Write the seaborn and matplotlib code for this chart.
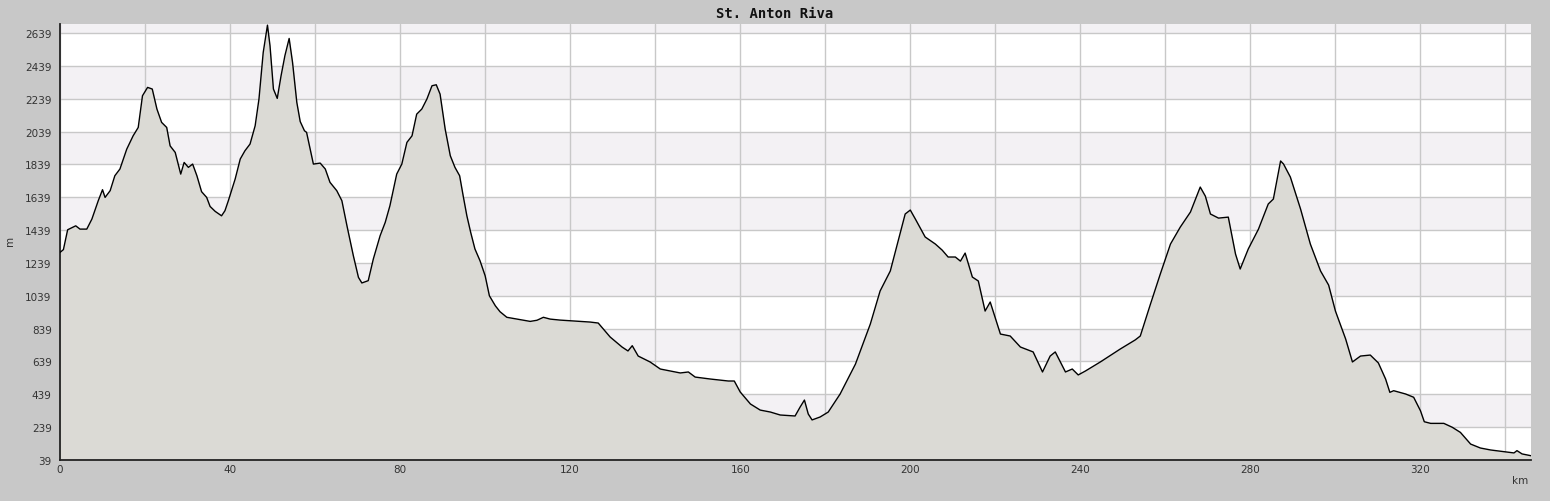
import numpy as np
import pandas as pd
import matplotlib
matplotlib.use("Agg")
import matplotlib.pyplot as plt
import seaborn as sns
from matplotlib.ticker import MultipleLocator, FixedLocator, FuncFormatter

# distance along the route (km) and elevation (m), read from the profile
km = [0.0, 0.8, 1.8, 3.7, 4.7, 6.3, 7.5, 9.0, 10.0, 10.6, 11.8, 12.9, 14.1, 15.7,
      17.2, 18.4, 19.4, 20.6, 21.7, 22.8, 23.9, 25.1, 25.9, 27.1, 28.4, 29.2,
      30.2, 31.2, 32.2, 33.3, 34.5, 35.3, 36.5, 38.0, 38.8, 39.6, 41.2, 42.4,
      43.5, 44.7, 45.9, 46.8, 47.8, 48.8, 49.4, 50.2, 51.1, 52.0, 52.9, 53.9,
      54.7, 55.7, 56.5, 57.5, 58.0, 59.6, 61.2, 62.4, 63.5, 65.1, 66.3, 67.5,
      69.0, 70.2, 71.0, 72.5, 73.7, 75.3, 76.5, 77.6, 79.2, 80.4, 81.6, 82.8,
      83.9, 85.1, 86.3, 87.5, 88.5, 89.4, 90.6, 91.8, 92.9, 94.0, 94.9, 95.7,
      96.6, 97.6, 98.8, 100.0, 101.0, 102.4, 103.5, 105.1, 107.5, 110.6, 112.2,
      113.7, 115.3, 117.6, 121.2, 124.7, 126.6, 129.4, 132.2, 133.6, 134.6,
      136.0, 138.8, 141.2, 145.9, 147.8, 149.4, 153.0, 157.2, 158.6, 160.0,
      162.4, 164.7, 167.1, 169.4, 172.9, 174.1, 175.1, 176.0, 176.9, 178.8,
      180.7, 183.5, 187.1, 190.6, 192.9, 195.3, 198.8, 200.0, 201.2, 203.5,
      205.9, 207.5, 208.9, 210.6, 211.8, 212.9, 214.6, 216.0, 217.6, 218.8,
      221.2, 223.5, 225.9, 228.9, 231.1, 232.9, 234.1, 236.5, 238.1, 239.5,
      241.2, 244.7, 249.4, 252.9, 254.1, 256.5, 258.8, 261.2, 263.5, 265.9,
      268.2, 269.4, 270.6, 272.5, 274.8, 276.5, 277.6, 279.5, 281.9, 284.2,
      285.4, 287.1, 287.8, 289.4, 291.8, 294.1, 296.5, 298.4, 300.0, 302.4,
      304.0, 305.9, 308.2, 310.1, 311.8, 312.8, 313.7, 316.5, 318.4, 320.0,
      320.9, 322.4, 325.5, 327.5, 329.4, 331.8, 334.1, 336.5, 339.6, 342.0,
      342.7, 343.9, 346.0]
elevation = [1303, 1320, 1441, 1465, 1445, 1445, 1506, 1618, 1685, 1638, 1679,
             1770, 1811, 1932, 2013, 2064, 2257, 2308, 2298, 2176, 2095, 2064,
             1952, 1912, 1780, 1851, 1821, 1841, 1770, 1673, 1638, 1583, 1553,
             1526, 1557, 1618, 1750, 1872, 1922, 1963, 2074, 2237, 2521, 2687,
             2561, 2298, 2241, 2379, 2501, 2606, 2460, 2217, 2100, 2044, 2034,
             1841, 1847, 1811, 1730, 1679, 1618, 1465, 1283, 1151, 1117, 1131,
             1263, 1405, 1486, 1587, 1780, 1841, 1973, 2013, 2145, 2176, 2237,
             2318, 2324, 2267, 2054, 1892, 1821, 1770, 1638, 1526, 1425, 1324,
             1252, 1161, 1039, 978, 942, 908, 897, 883, 890, 908, 897, 891, 885,
             879, 873, 788, 727, 703, 735, 672, 636, 593, 569, 575, 544, 532,
             520, 520, 453, 380, 343, 331, 313, 307, 362, 404, 319, 283, 301,
             331, 441, 623, 867, 1068, 1190, 1537, 1561, 1506, 1397, 1354, 1317,
             1275, 1275, 1250, 1299, 1153, 1129, 946, 1001, 806, 794, 727, 697,
             575, 672, 697, 575, 593, 557, 581, 636, 715, 770, 794, 989, 1171,
             1354, 1457, 1549, 1701, 1646, 1537, 1512, 1518, 1293, 1202, 1324,
             1445, 1598, 1628, 1860, 1841, 1762, 1567, 1354, 1190, 1104, 946,
             776, 636, 672, 678, 630, 532, 451, 461, 441, 421, 339, 272, 262,
             262, 238, 207, 136, 112, 100, 90, 82, 96, 76, 65]

y_ticks = [39, 239, 439, 639, 839, 1039, 1239, 1439, 1639, 1839, 2039, 2239, 2439, 2639]
title = "St. Anton Riva"

df = pd.DataFrame({"km": km, "elevation": elevation})

sns.set_style("white")
plt.rcParams["font.family"] = ["DejaVu Sans"]

fig = plt.figure(figsize=(15.5, 5.02), dpi=100, facecolor="#c8c8c8")
ax = fig.add_axes([60 / 1550, 41 / 502, 1471 / 1550, 436 / 502])
ax.set_facecolor("white")

y_min, y_max = 39, 2694
x_max = 346

# alternating horizontal bands
for i, lo in enumerate(y_ticks):
    if i % 2 == 1:
        ax.axhspan(lo, lo + 200, color="#f3f1f4", zorder=0, lw=0)

ax.fill_between(df["km"], y_min, df["elevation"], color="#dbdad5", zorder=2, lw=0)
sns.lineplot(data=df, x="km", y="elevation", ax=ax, color="black", lw=1.0,
             zorder=3, estimator=None, sort=False)

ax.set_xlim(0, x_max)
ax.set_ylim(y_min, y_max)

ax.xaxis.set_major_locator(MultipleLocator(20))
ax.xaxis.set_minor_locator(MultipleLocator(10))
ax.xaxis.set_major_formatter(FuncFormatter(lambda v, p: f"{int(v)}" if int(round(v)) % 40 == 0 else ""))
ax.yaxis.set_major_locator(FixedLocator(y_ticks))
ax.yaxis.set_minor_locator(FixedLocator([t + 100 for t in y_ticks]))

ax.grid(True, which="major", color="#c8c8c8", lw=1, zorder=1)
ax.set_axisbelow(True)

ax.tick_params(axis="both", which="major", direction="in", length=5, width=1,
               labelsize=7.5, color="#222222", labelcolor="#333333")
ax.tick_params(axis="both", which="minor", direction="in", length=3, width=1,
               color="#222222")
ax.tick_params(axis="x", which="major", pad=3)
ax.tick_params(axis="y", which="major", pad=6)

for side in ["top", "right"]:
    ax.spines[side].set_visible(False)
for side in ["left", "bottom"]:
    ax.spines[side].set_color("#222222")
    ax.spines[side].set_linewidth(1.3)

ax.set_xlabel("")
ax.set_ylabel("")
fig.text(10 / 1550, 1 - 241 / 502, "m", rotation=90, ha="center", va="center",
         fontsize=7.5, color="#333333")
fig.text(1520 / 1550, 1 - 481 / 502, "km", ha="center", va="center",
         fontsize=7.5, color="#333333")
fig.text(0.5, 1 - 14 / 502, title, ha="center", va="center",
         fontsize=10, family="DejaVu Sans Mono", weight="bold", color="#111111")

fig.savefig("out.png", dpi=100, facecolor=fig.get_facecolor())
